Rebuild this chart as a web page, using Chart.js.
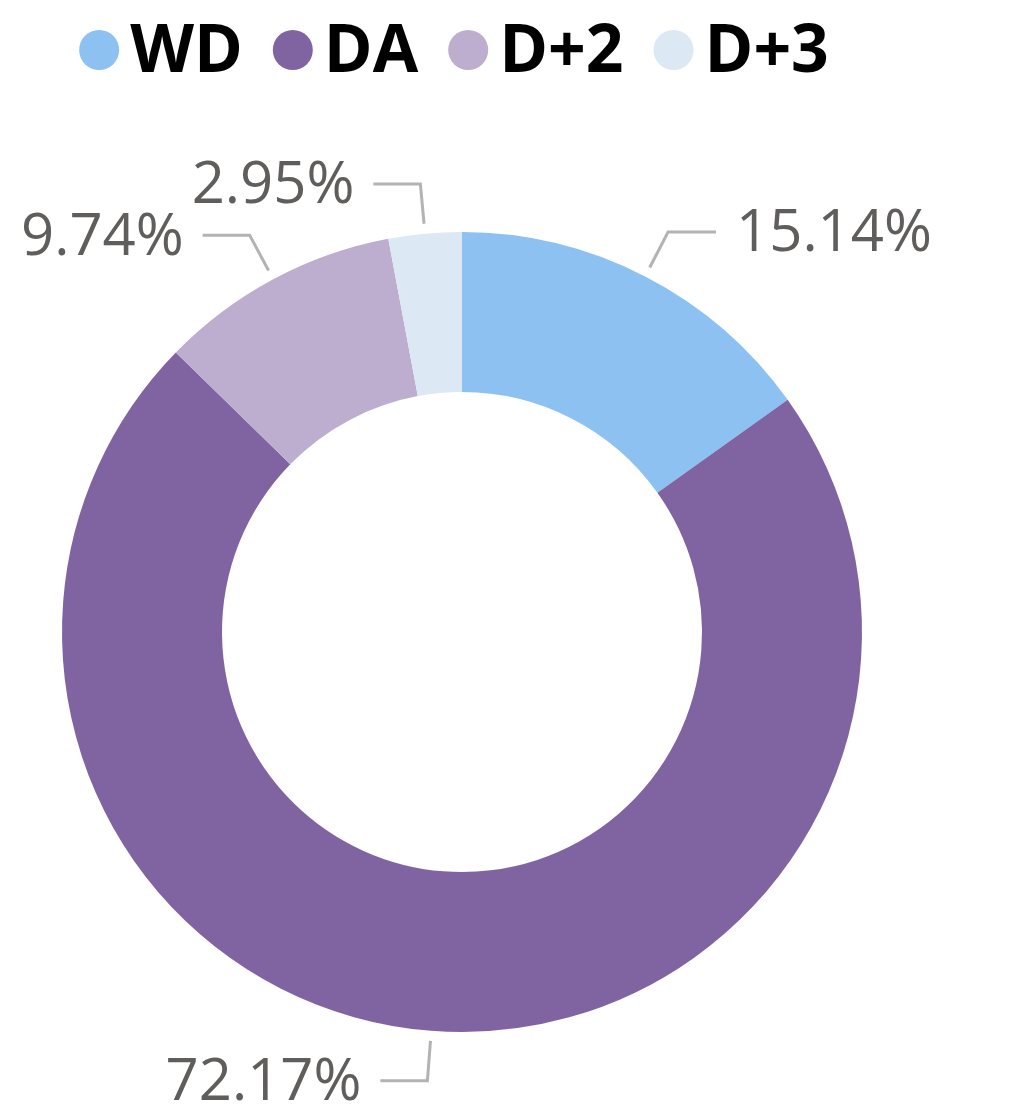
<!DOCTYPE html>
<html>
<head>
<meta charset="utf-8">
<script src="https://cdn.jsdelivr.net/npm/chart.js@4/dist/chart.umd.min.js"></script>
<style>
  html, body { margin: 0; padding: 0; background: #fff; }
  #wrap { width: 1020px; height: 1120px; position: relative; }
</style>
</head>
<body>
<div id="wrap"><canvas id="donut" width="1020" height="1120"></canvas></div>
<script>
// chart data
const categories = ["WD", "DA", "D+2", "D+3"];
const shares = [15.14, 72.17, 9.74, 2.95];
const sliceColors = ["#8DC1F2", "#8064A2", "#BDADCF", "#DDE8F5"];

// custom legend across the top
const topLegend = {
  id: "topLegend",
  afterDraw(chart) {
    const ctx = chart.ctx;
    ctx.save();
    ctx.font = "bold 66px 'Open Sans', 'Noto Sans', sans-serif";
    ctx.textBaseline = "middle";
    const r = 20, gapIn = 11, gapOut = 30;
    let total = 0;
    const widths = categories.map((c) => ctx.measureText(c).width);
    widths.forEach((w) => (total += r * 2 + gapIn + w));
    total += gapOut * (categories.length - 1);
    let x = 454 - total / 2;
    const y = 50;
    categories.forEach((c, i) => {
      ctx.fillStyle = sliceColors[i];
      ctx.beginPath();
      ctx.arc(x + r, y, r, 0, Math.PI * 2);
      ctx.fill();
      x += r * 2 + gapIn;
      ctx.fillStyle = "#000";
      ctx.fillText(c, x, y + 3);
      x += widths[i] + gapOut;
    });
    ctx.restore();
  },
};

// percent labels with elbow leader lines
const leaderLabels = {
  id: "leaderLabels",
  afterDatasetsDraw(chart) {
    const ctx = chart.ctx;
    const meta = chart.getDatasetMeta(0);
    ctx.save();
    ctx.font = "400 58px 'Open Sans', 'Noto Sans', sans-serif";
    ctx.textBaseline = "middle";
    meta.data.forEach((arc, i) => {
      const p = arc.getProps(["x", "y", "startAngle", "endAngle", "outerRadius"], true);
      const mid = (p.startAngle + p.endAngle) / 2;
      const r1 = p.outerRadius + 10, r2 = p.outerRadius + 50;
      const x1 = p.x + Math.cos(mid) * r1, y1 = p.y + Math.sin(mid) * r1;
      const x2 = p.x + Math.cos(mid) * r2, y2 = p.y + Math.sin(mid) * r2;
      const right = Math.cos(mid) >= 0;
      const x3 = x2 + (right ? 48 : -47);
      ctx.strokeStyle = "#B3B3B3";
      ctx.lineWidth = 3;
      ctx.beginPath();
      ctx.moveTo(x1, y1);
      ctx.lineTo(x2, y2);
      ctx.lineTo(x3, y2);
      ctx.stroke();
      ctx.fillStyle = "#605E5C";
      ctx.textAlign = right ? "left" : "right";
      ctx.fillText(shares[i].toFixed(2) + "%", x3 + (right ? 20 : -19), y2 + 3);
    });
    ctx.restore();
  },
};

new Chart(document.getElementById("donut"), {
  type: "doughnut",
  data: {
    labels: categories,
    datasets: [
      {
        data: shares,
        backgroundColor: sliceColors,
        borderWidth: 0,
      },
    ],
  },
  options: {
    responsive: false,
    animation: false,
    cutout: "60%",
    layout: {
      padding: { left: 62, right: 158, top: 232, bottom: 88 },
    },
    plugins: {
      legend: { display: false },
      tooltip: { enabled: false },
    },
  },
  plugins: [topLegend, leaderLabels],
});
</script>
</body>
</html>
